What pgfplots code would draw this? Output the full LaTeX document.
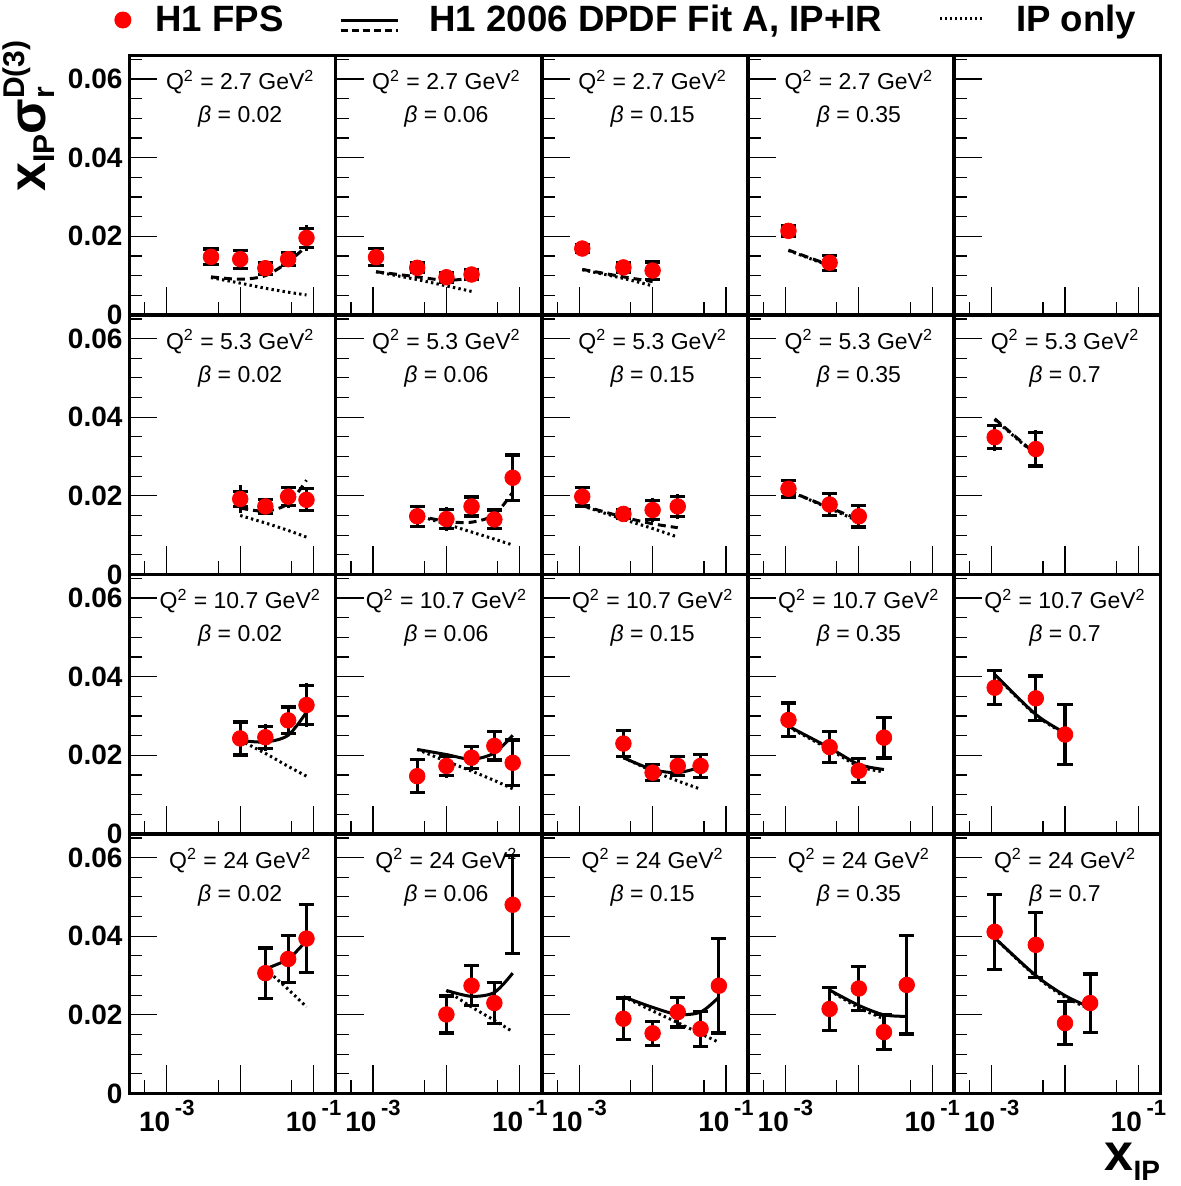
\documentclass[border=0pt]{standalone}
\usepackage{fontspec}
\setmainfont{Liberation Sans}
\usepackage{pgfplots}
\pgfplotsset{compat=1.18}
\usepgfplotslibrary{groupplots}

\newcommand{\paneltext}{\fontsize{11.5}{13}\selectfont}
\newcommand{\sups}[1]{\,\raisebox{8pt}{\fontsize{11}{11}\selectfont\bfseries #1}}

\pgfplotsset{
 ipline/.style={black, line width=1.5pt, dash pattern=on 1.2pt off 1.6pt, smooth, mark=none, forget plot},
 fitline/.style={black, line width=1.5pt, smooth, mark=none, forget plot},
 fitdash/.style={dash pattern=on 4pt off 2.5pt},
 errtot/.style={black, only marks, mark=none, forget plot, error bars/.cd, y dir=both, y explicit, error mark=none, error bar style={line width=1.6pt}},
 errstat/.style={black, only marks, mark=none, forget plot, error bars/.cd, y dir=both, y explicit, error mark=|, error bar style={line width=1.6pt}, error mark options={line width=1.6pt, mark size=3.8pt, black}},
 pts/.style={only marks, mark=*, mark size=3.9pt, red, mark options={fill=red, draw=red}, forget plot},
}

% #1 Q2, #2 beta, #3 fit style, #4 data, #5 fit, #6 IP only
\newcommand{\panel}[6]{%
 \addplot[ipline] table[row sep=\\] {#6};
 \addplot[fitline,#3] table[row sep=\\] {#5};
 \addplot[errtot] table[row sep=\\, x=x, y=y, y error=et] {#4};
 \addplot[errstat] table[row sep=\\, x=x, y=y, y error=es] {#4};
 \addplot[pts] table[row sep=\\, x=x, y=y] {#4};
 \node[font=\paneltext] at (rel axis cs:0.537,0.898) {Q\textsuperscript{2} = #1 GeV\textsuperscript{2}};
 \node[font=\paneltext] at (rel axis cs:0.537,0.763) {\textit{β} = #2};
}

\begin{document}
\begin{tikzpicture}
\begin{groupplot}[
 group style={group size=5 by 4, horizontal sep=0pt, vertical sep=0pt, group name=group},
 width=103.1pt, height=129.75pt, scale only axis,
 xmode=log, xmin=3.1e-4, xmax=0.2, ymin=0, ymax=0.066,
 scaled ticks=false,
 xtick={0.001,0.01,0.1}, minor xtick={0.0005,0.005,0.05},
 ytick={0,0.02,0.04,0.06},
 minor ytick={0.005,0.01,0.015,0.025,0.03,0.035,0.045,0.05,0.055,0.065},
 xticklabels={,,}, yticklabels={,,,},
 tick pos=left, tick align=inside,
 major tick length=14pt, minor tick length=6.5pt,
 tick style={line width=0.6pt, black},
 axis line style={line width=1.8pt},
 tick label style={font=\bfseries\fontsize{14}{16}\selectfont},
]
% ---------------- row 1: Q2 = 2.7
\nextgroupplot[yticklabels={0,0.02,0.04,0.06},
 legend columns=3,
 legend style={at={(-0.0752,1.1368)}, anchor=west, draw=none, fill=none, inner sep=0pt,
   font=\bfseries\fontsize{18.3}{22}\selectfont, nodes={inner sep=0pt}, column sep=0pt}]
\addlegendimage{legend image code/.code={\path[draw=none,fill=none] (0pt,0pt) -- (20.5pt,0pt); \fill[red, draw=none] (4.25pt,0pt) circle (4.25pt);}}
\addlegendentry{H1 FPS}
\addlegendimage{legend image code/.code={\path[draw=none,fill=none] (0pt,0pt)--(73pt,0pt); \draw[black, line width=1.5pt] (28.5pt,0pt)--(57pt,0pt); \draw[black,line width=1.5pt, dash pattern=on 3.5pt off 2pt] (28.5pt,-5pt)--(57pt,-5pt);}}
\addlegendentry{H1 2006 DPDF Fit A, IP+IR}
\addlegendimage{legend image code/.code={\path[draw=none,fill=none] (0pt,0pt)--(67pt,0pt); \draw[black, line width=1.5pt, dash pattern=on 1pt off 1.5pt] (29pt,1pt)--(51.5pt,1pt);}}
\addlegendentry{IP only}
\panel{2.7}{0.02}{fitdash}
{x y es et\\ 0.004 0.0148 0.0020 0.0024\\ 0.01 0.0142 0.0023 0.0027\\ 0.022 0.0119 0.0015 0.0018\\ 0.045 0.0142 0.0017 0.0020\\ 0.08 0.0196 0.0025 0.0033\\}
{x y\\ 0.004 0.0097\\ 0.01 0.0091\\ 0.022 0.0100\\ 0.045 0.0135\\ 0.08 0.0175\\}
{x y\\ 0.004 0.0095\\ 0.01 0.0081\\ 0.022 0.0068\\ 0.045 0.0058\\ 0.08 0.0051\\}

\nextgroupplot
\panel{2.7}{0.06}{fitdash}
{x y es et\\ 0.0011 0.0147 0.0022 0.0024\\ 0.004 0.0120 0.0012 0.0015\\ 0.01 0.0096 0.0012 0.0015\\ 0.022 0.0103 0.0013 0.0016\\}
{x y\\ 0.0011 0.0110\\ 0.004 0.0097\\ 0.01 0.0088\\ 0.022 0.0094\\}
{x y\\ 0.0011 0.0110\\ 0.004 0.0090\\ 0.01 0.0074\\ 0.022 0.0060\\}

\nextgroupplot
\panel{2.7}{0.15}{fitdash}
{x y es et\\ 0.0011 0.0169 0.0010 0.0012\\ 0.004 0.0121 0.0012 0.0015\\ 0.01 0.0113 0.0022 0.0025\\}
{x y\\ 0.0011 0.0116\\ 0.004 0.0097\\ 0.01 0.0085\\}
{x y\\ 0.0011 0.0115\\ 0.004 0.0093\\ 0.01 0.0074\\}

\nextgroupplot
\panel{2.7}{0.35}{fitdash}
{x y es et\\ 0.0011 0.0214 0.0013 0.0016\\ 0.004 0.0133 0.0019 0.0021\\}
{x y\\ 0.0011 0.0165\\ 0.004 0.0127\\}
{x y\\ 0.0011 0.0164\\ 0.004 0.0125\\}

\nextgroupplot

% ---------------- row 2: Q2 = 5.3
\nextgroupplot[yticklabels={0,0.02,0.04,0.06}]
\panel{5.3}{0.02}{fitdash}
{x y es et\\ 0.01 0.0192 0.0020 0.0036\\ 0.022 0.0173 0.0017 0.0022\\ 0.045 0.0198 0.0023 0.0028\\ 0.08 0.0190 0.0028 0.0032\\}
{x y\\ 0.01 0.0169\\ 0.022 0.0161\\ 0.045 0.0180\\ 0.08 0.0240\\}
{x y\\ 0.01 0.0150\\ 0.022 0.0131\\ 0.045 0.0112\\ 0.08 0.0095\\}

\nextgroupplot
\panel{5.3}{0.06}{fitdash}
{x y es et\\ 0.004 0.0148 0.0025 0.0028\\ 0.01 0.0141 0.0025 0.0030\\ 0.022 0.0173 0.0024 0.0030\\ 0.045 0.0140 0.0024 0.0028\\ 0.08 0.0246 0.0058 0.0062\\}
{x y\\ 0.004 0.0150\\ 0.01 0.0135\\ 0.022 0.0133\\ 0.045 0.0152\\ 0.08 0.0209\\}
{x y\\ 0.004 0.0150\\ 0.01 0.0128\\ 0.022 0.0108\\ 0.045 0.0090\\ 0.08 0.0075\\}

\nextgroupplot
\panel{5.3}{0.15}{fitdash}
{x y es et\\ 0.0011 0.0198 0.0024 0.0026\\ 0.004 0.0154 0.0012 0.0015\\ 0.01 0.0164 0.0024 0.0030\\ 0.022 0.0173 0.0026 0.0031\\}
{x y\\ 0.0011 0.0175\\ 0.004 0.0146\\ 0.01 0.0129\\ 0.022 0.0119\\}
{x y\\ 0.0011 0.0175\\ 0.004 0.0140\\ 0.01 0.0117\\ 0.022 0.0095\\}

\nextgroupplot
\panel{5.3}{0.35}{fitdash}
{x y es et\\ 0.0011 0.0218 0.0021 0.0024\\ 0.004 0.0178 0.0027 0.0030\\ 0.01 0.0148 0.0027 0.0031\\}
{x y\\ 0.0011 0.0213\\ 0.004 0.0170\\ 0.01 0.0140\\}
{x y\\ 0.0011 0.0213\\ 0.004 0.0168\\ 0.01 0.0135\\}

\nextgroupplot
\panel{5.3}{0.7}{fitdash}
{x y es et\\ 0.0011 0.0349 0.0029 0.0035\\ 0.004 0.0319 0.0043 0.0048\\}
{x y\\ 0.0011 0.0396\\ 0.004 0.0306\\}
{x y\\ 0.0011 0.0394\\ 0.004 0.0304\\}

% ---------------- row 3: Q2 = 10.7
\nextgroupplot[yticklabels={0,0.02,0.04,0.06}]
\panel{10.7}{0.02}{solid}
{x y es et\\ 0.01 0.0243 0.0042 0.0048\\ 0.022 0.0246 0.0028 0.0034\\ 0.045 0.0289 0.0034 0.0040\\ 0.08 0.0328 0.0049 0.0055\\}
{x y\\ 0.01 0.0238\\ 0.022 0.0234\\ 0.045 0.0251\\ 0.08 0.0310\\}
{x y\\ 0.01 0.0238\\ 0.022 0.0205\\ 0.045 0.0172\\ 0.08 0.0147\\}

\nextgroupplot
\panel{10.7}{0.06}{solid}
{x y es et\\ 0.004 0.0147 0.0042 0.0045\\ 0.01 0.0173 0.0025 0.0031\\ 0.022 0.0194 0.0028 0.0033\\ 0.045 0.0224 0.0036 0.0040\\ 0.08 0.0181 0.0058 0.0060\\}
{x y\\ 0.004 0.0215\\ 0.01 0.0202\\ 0.022 0.0190\\ 0.045 0.0206\\ 0.08 0.0251\\}
{x y\\ 0.004 0.0215\\ 0.01 0.0185\\ 0.022 0.0160\\ 0.045 0.0136\\ 0.08 0.0115\\}

\nextgroupplot
\panel{10.7}{0.15}{solid}
{x y es et\\ 0.004 0.0230 0.0033 0.0036\\ 0.01 0.0156 0.0020 0.0025\\ 0.022 0.0173 0.0025 0.0029\\ 0.045 0.0173 0.0030 0.0034\\}
{x y\\ 0.004 0.0194\\ 0.01 0.0164\\ 0.022 0.0156\\ 0.045 0.0170\\}
{x y\\ 0.004 0.0194\\ 0.01 0.0160\\ 0.022 0.0135\\ 0.045 0.0114\\}

\nextgroupplot
\panel{10.7}{0.35}{solid}
{x y es et\\ 0.0011 0.0290 0.0043 0.0045\\ 0.004 0.0221 0.0040 0.0043\\ 0.01 0.0161 0.0030 0.0034\\ 0.022 0.0245 0.0052 0.0054\\}
{x y\\ 0.0011 0.0274\\ 0.004 0.0219\\ 0.01 0.0177\\ 0.022 0.0164\\}
{x y\\ 0.0011 0.0272\\ 0.004 0.0215\\ 0.01 0.0172\\ 0.022 0.0158\\}

\nextgroupplot
\panel{10.7}{0.7}{solid}
{x y es et\\ 0.0011 0.0372 0.0043 0.0047\\ 0.004 0.0345 0.0057 0.0060\\ 0.01 0.0253 0.0077 0.0080\\}
{x y\\ 0.0011 0.0406\\ 0.004 0.0304\\ 0.01 0.0257\\}
{x y\\ 0.0011 0.0404\\ 0.004 0.0302\\ 0.01 0.0255\\}

% ---------------- row 4: Q2 = 24
\nextgroupplot[yticklabels={0,0.02,0.04,0.06}, xticklabels={10\sups{-3},,10\sups{-1}}]
\panel{24}{0.02}{solid}
{x y es et\\ 0.022 0.0306 0.0064 0.0066\\ 0.045 0.0342 0.0060 0.0062\\ 0.08 0.0394 0.0086 0.0088\\}
{x y\\ 0.022 0.0317\\ 0.045 0.0342\\ 0.08 0.0389\\}
{x y\\ 0.022 0.0317\\ 0.045 0.0265\\ 0.08 0.0220\\}

\nextgroupplot[xticklabels={10\sups{-3},,10\sups{-1}}]
\panel{24}{0.06}{solid}
{x y es et\\ 0.01 0.0201 0.0047 0.0050\\ 0.022 0.0274 0.0051 0.0054\\ 0.045 0.0230 0.0052 0.0054\\ 0.08 0.0480 0.0125 0.0127\\}
{x y\\ 0.01 0.0262\\ 0.022 0.0247\\ 0.045 0.0257\\ 0.08 0.0306\\}
{x y\\ 0.01 0.0262\\ 0.022 0.0220\\ 0.045 0.0186\\ 0.08 0.0157\\}

\nextgroupplot[xticklabels={10\sups{-3},,10\sups{-1}}]
\panel{24}{0.15}{solid}
{x y es et\\ 0.004 0.0190 0.0053 0.0053\\ 0.01 0.0153 0.0031 0.0034\\ 0.022 0.0207 0.0038 0.0041\\ 0.045 0.0164 0.0044 0.0046\\ 0.08 0.0274 0.0120 0.0120\\}
{x y\\ 0.004 0.0246\\ 0.01 0.0219\\ 0.022 0.0201\\ 0.045 0.0207\\ 0.08 0.0245\\}
{x y\\ 0.004 0.0246\\ 0.01 0.0210\\ 0.022 0.0180\\ 0.045 0.0152\\ 0.08 0.0130\\}

\nextgroupplot[xticklabels={10\sups{-3},,10\sups{-1}}]
\panel{24}{0.35}{solid}
{x y es et\\ 0.004 0.0215 0.0055 0.0055\\ 0.01 0.0267 0.0056 0.0059\\ 0.022 0.0156 0.0044 0.0044\\ 0.045 0.0276 0.0125 0.0125\\}
{x y\\ 0.004 0.0263\\ 0.01 0.0224\\ 0.022 0.0200\\ 0.045 0.0196\\}
{x y\\ 0.004 0.0262\\ 0.01 0.0218\\ 0.022 0.0190\\}

\nextgroupplot[xticklabels={10\sups{-3},,10\sups{-1}}]
\panel{24}{0.7}{solid}
{x y es et\\ 0.0011 0.0411 0.0096 0.0098\\ 0.004 0.0378 0.0083 0.0085\\ 0.01 0.0179 0.0055 0.0058\\ 0.022 0.0230 0.0074 0.0076\\}
{x y\\ 0.0011 0.0396\\ 0.004 0.0300\\ 0.01 0.0249\\ 0.022 0.0219\\}
{x y\\ 0.0011 0.0395\\ 0.004 0.0298\\ 0.01 0.0245\\ 0.022 0.0215\\}
\end{groupplot}

% axis titles
\node[rotate=90, anchor=base west, inner sep=0pt] at ([shift={(-42.25pt,61.5pt)}]group c1r1.south west)
 {\bfseries\fontsize{26}{30}\selectfont x\raisebox{-5pt}{\fontsize{15}{15}\selectfont IP}σ\rlap{\raisebox{-5pt}{\fontsize{15}{15}\selectfont r}}\raisebox{10pt}{\fontsize{15}{15}\selectfont D(3)}};
\node[anchor=base east, inner sep=0pt] at ([shift={(0pt,-38.5pt)}]group c5r4.south east)
 {\bfseries\fontsize{26}{30}\selectfont x\raisebox{-5pt}{\fontsize{14}{14}\selectfont IP}};

% page extent
\path ([shift={(-64.75pt,157.5pt)}]group c1r1.south west) rectangle ([shift={(525.25pt,-435.5pt)}]group c1r1.south west);
\end{tikzpicture}
\end{document}
